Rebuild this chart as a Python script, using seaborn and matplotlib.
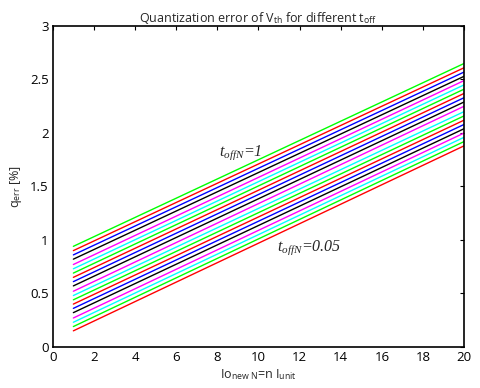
import numpy as np
import pandas as pd
import matplotlib
matplotlib.use('Agg')
import matplotlib.pyplot as plt
import seaborn as sns

# values (one line per t_offN, at Io = 1 and Io = 20)
toff = [0.05, 0.10, 0.15, 0.20, 0.25, 0.30, 0.35, 0.40, 0.45, 0.50,
        0.55, 0.60, 0.65, 0.70, 0.75, 0.80, 0.85, 0.90, 0.95, 1.00]
io_points = [1, 20]
q_start = [0.15, 0.19, 0.23, 0.27, 0.32, 0.36, 0.40, 0.44, 0.48, 0.52,
           0.57, 0.61, 0.65, 0.69, 0.73, 0.77, 0.82, 0.86, 0.90, 0.94]
q_end = [1.88, 1.92, 1.96, 2.00, 2.04, 2.08, 2.12, 2.16, 2.20, 2.25,
         2.29, 2.33, 2.37, 2.41, 2.45, 2.49, 2.53, 2.57, 2.61, 2.65]
line_colors = ['#ff0000', '#00ff00', '#00ffff', '#ff00ff', '#000000', '#0000ff']
xticks = list(range(0, 21, 2))
yticks = [0, 0.5, 1, 1.5, 2, 2.5, 3]
yticklabels = ['0', '0.5', '1', '1.5', '2', '2.5', '3']

sns.set_style('white')
plt.rcParams['font.family'] = ['Open Sans', 'DejaVu Sans']
plt.rcParams['mathtext.fontset'] = 'custom'
plt.rcParams['mathtext.rm'] = 'Open Sans'
plt.rcParams['mathtext.it'] = 'Liberation Serif:italic'

rows = []
for t, a, b in zip(toff, q_start, q_end):
    rows.append({'io': io_points[0], 'q': a, 'toff': t})
    rows.append({'io': io_points[1], 'q': b, 'toff': t})
df = pd.DataFrame(rows)

palette = [line_colors[i % len(line_colors)] for i in range(len(toff))]

fig = plt.figure(figsize=(4.8, 3.88), dpi=100)
ax = fig.add_axes([0.110, 0.106, 0.857, 0.827])
sns.lineplot(data=df, x='io', y='q', hue='toff', palette=palette,
             legend=False, linewidth=1, ax=ax)

ax.set_xlim(0, 20)
ax.set_ylim(0, 3)
ax.set_xticks(xticks)
ax.set_yticks(yticks)
ax.set_yticklabels(yticklabels)
ax.tick_params(direction='in', length=3, width=0.8, labelsize=9.5,
               top=True, right=True, pad=3, colors='black')
for s in ax.spines.values():
    s.set_linewidth(1.2)
    s.set_color('black')

ax.set_title(r'Quantization error of V$_{\mathrm{th}}$ for different t$_{\mathrm{off}}$',
             fontsize=9, pad=3)
ax.set_xlabel(r'Io$_{\mathrm{new\ N}}$=n I$_{\mathrm{unit}}$', fontsize=9, labelpad=2)
ax.set_ylabel(r'q$_{\mathrm{err}}$ [%]', fontsize=9, labelpad=4)

ax.text(8.1, 1.82, r'$t_{offN}$=1', family='Liberation Serif', style='italic',
        fontsize=11.5, va='center', ha='left')
ax.text(10.9, 0.93, r'$t_{offN}$=0.05', family='Liberation Serif', style='italic',
        fontsize=11.5, va='center', ha='left')

fig.savefig('out.png', dpi=100)
